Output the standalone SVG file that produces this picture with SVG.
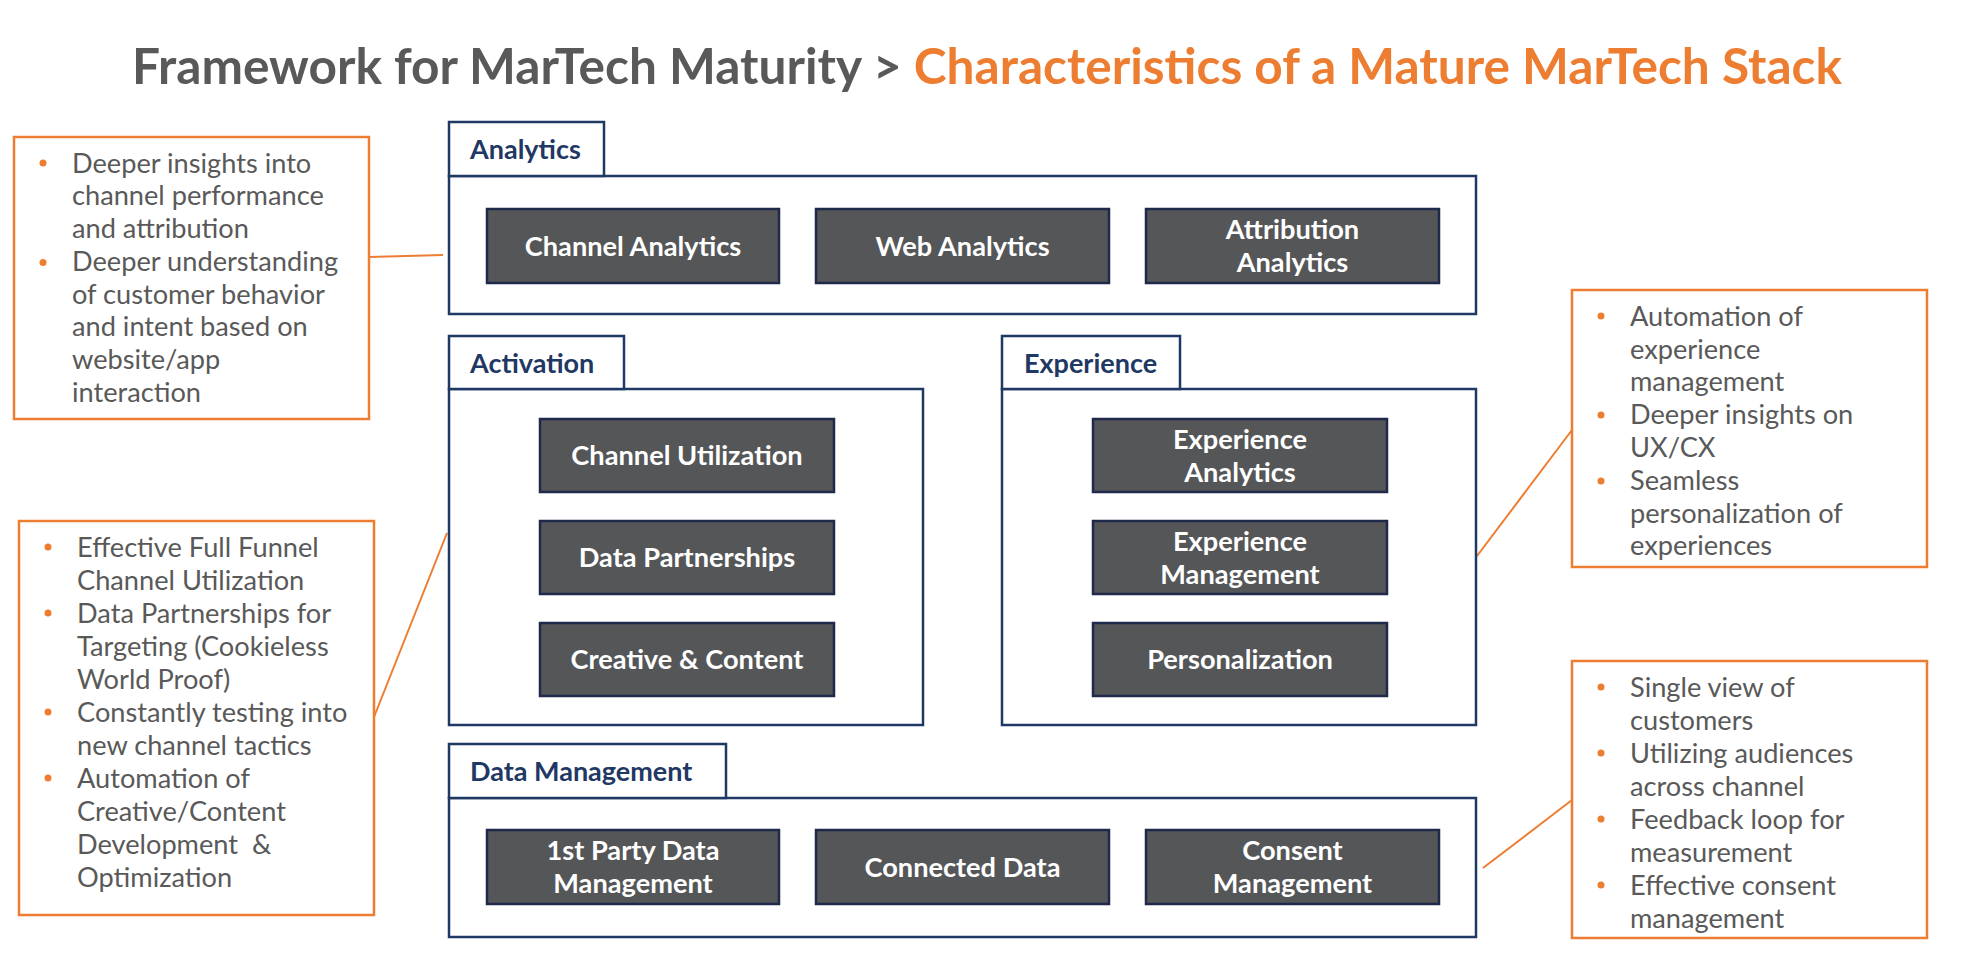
<svg xmlns="http://www.w3.org/2000/svg" width="1968" height="960" viewBox="0 0 1968 960">
<style>
.title{font-family:Lato,"Liberation Sans",sans-serif;font-weight:700;font-size:49.6px}
.tab{fill:#fff;stroke:#1f3864;stroke-width:2.5}
.panel{fill:#fff;stroke:#1f3864;stroke-width:2.5}
.tablbl{font-family:Lato,"Liberation Sans",sans-serif;font-weight:700;font-size:27px;fill:#1f3864}
.box{fill:#555658;stroke:#1f2a4a;stroke-width:2.5}
.boxtxt{font-family:Lato,"Liberation Sans",sans-serif;font-weight:700;font-size:27.2px;fill:#fff;text-anchor:middle}
.call{fill:#fff;stroke:#ed7d31;stroke-width:2.5}
.ctxt{font-family:Lato,"Liberation Sans",sans-serif;font-size:27.2px;fill:#595959}
.dot{fill:#ed7d31}
.conn{stroke:#ed7d31;stroke-width:2;fill:none}
</style>
<rect width="1968" height="960" fill="#fff"/>
<text class="title" x="132" y="84"><tspan fill="#595959">Framework for MarTech Maturity &gt; </tspan><tspan fill="#ed7d31">Characteristics of a Mature MarTech Stack</tspan></text>

<g id="connectors">
<line class="conn" x1="369" y1="257" x2="443" y2="255"/>
<line class="conn" x1="374" y1="717" x2="447" y2="533"/>
<line class="conn" x1="1572" y1="430" x2="1477" y2="556"/>
<line class="conn" x1="1572" y1="800" x2="1483" y2="868"/>
</g>

<g id="analytics">
<rect class="panel" x="449" y="176" width="1027" height="138"/>
<rect class="tab" x="449" y="122" width="155" height="54"/>
<text class="tablbl" x="470" y="159">Analytics</text>
</g>
<g id="channel-analytics"><rect class="box" x="487" y="209" width="292" height="74"/><text class="boxtxt" x="633" y="256">Channel Analytics</text></g>
<g id="web-analytics"><rect class="box" x="816" y="209" width="293" height="74"/><text class="boxtxt" x="962.5" y="256">Web Analytics</text></g>
<g id="attribution-analytics"><rect class="box" x="1146" y="209" width="293" height="74"/><text class="boxtxt" x="1292.5" y="238.5">Attribution</text><text class="boxtxt" x="1292.5" y="271.5">Analytics</text></g>

<g id="activation">
<rect class="panel" x="449" y="389" width="474" height="336"/>
<rect class="tab" x="449" y="336" width="175" height="53"/>
<text class="tablbl" x="470" y="373">Activation</text>
</g>
<g id="channel-utilization"><rect class="box" x="540" y="419" width="294" height="73"/><text class="boxtxt" x="687" y="465">Channel Utilization</text></g>
<g id="data-partnerships"><rect class="box" x="540" y="521" width="294" height="73"/><text class="boxtxt" x="687" y="567">Data Partnerships</text></g>
<g id="creative-content"><rect class="box" x="540" y="623" width="294" height="73"/><text class="boxtxt" x="687" y="669">Creative &amp; Content</text></g>

<g id="experience">
<rect class="panel" x="1002" y="389" width="474" height="336"/>
<rect class="tab" x="1002" y="336" width="178" height="53"/>
<text class="tablbl" x="1024" y="373">Experience</text>
</g>
<g id="experience-analytics"><rect class="box" x="1093" y="419" width="294" height="73"/><text class="boxtxt" x="1240" y="448.5">Experience</text><text class="boxtxt" x="1240" y="481.5">Analytics</text></g>
<g id="experience-management"><rect class="box" x="1093" y="521" width="294" height="73"/><text class="boxtxt" x="1240" y="550.5">Experience</text><text class="boxtxt" x="1240" y="583.5">Management</text></g>
<g id="personalization"><rect class="box" x="1093" y="623" width="294" height="73"/><text class="boxtxt" x="1240" y="669">Personalization</text></g>

<g id="data-management">
<rect class="panel" x="449" y="798" width="1027" height="139"/>
<rect class="tab" x="449" y="744" width="277" height="54"/>
<text class="tablbl" x="470" y="781">Data Management</text>
</g>
<g id="first-party-data"><rect class="box" x="487" y="830" width="292" height="74"/><text class="boxtxt" x="633" y="859.5">1st Party Data</text><text class="boxtxt" x="633" y="892.5">Management</text></g>
<g id="connected-data"><rect class="box" x="816" y="830" width="293" height="74"/><text class="boxtxt" x="962.5" y="877">Connected Data</text></g>
<g id="consent-management"><rect class="box" x="1146" y="830" width="293" height="74"/><text class="boxtxt" x="1292.5" y="859.5">Consent</text><text class="boxtxt" x="1292.5" y="892.5">Management</text></g>

<g id="callout-analytics">
<rect class="call" x="14" y="137" width="355" height="282"/>
<circle class="dot" cx="43" cy="163" r="3.5"/><circle class="dot" cx="43" cy="262.5" r="3.5"/>
<text class="ctxt" x="72" y="172.7">Deeper insights into</text>
<text class="ctxt" x="72" y="205.4">channel performance</text>
<text class="ctxt" x="72" y="238.1">and attribution</text>
<text class="ctxt" x="72" y="270.8">Deeper understanding</text>
<text class="ctxt" x="72" y="303.5">of customer behavior</text>
<text class="ctxt" x="72" y="336.2">and intent based on</text>
<text class="ctxt" x="72" y="368.9">website/app</text>
<text class="ctxt" x="72" y="401.6">interaction</text>
</g>

<g id="callout-activation">
<rect class="call" x="19" y="521" width="355" height="394"/>
<circle class="dot" cx="48" cy="547" r="3.5"/><circle class="dot" cx="48" cy="613" r="3.5"/><circle class="dot" cx="48" cy="712" r="3.5"/><circle class="dot" cx="48" cy="778" r="3.5"/>
<text class="ctxt" x="77" y="556.7">Effective Full Funnel</text>
<text class="ctxt" x="77" y="589.7">Channel Utilization</text>
<text class="ctxt" x="77" y="622.7">Data Partnerships for</text>
<text class="ctxt" x="77" y="655.7">Targeting (Cookieless</text>
<text class="ctxt" x="77" y="688.7">World Proof)</text>
<text class="ctxt" x="77" y="721.7">Constantly testing into</text>
<text class="ctxt" x="77" y="754.7">new channel tactics</text>
<text class="ctxt" x="77" y="787.7">Automation of</text>
<text class="ctxt" x="77" y="820.7">Creative/Content</text>
<text class="ctxt" x="77" y="853.7" xml:space="preserve">Development  &amp;</text>
<text class="ctxt" x="77" y="886.7">Optimization</text>
</g>

<g id="callout-experience">
<rect class="call" x="1572" y="290" width="355" height="277"/>
<circle class="dot" cx="1601" cy="316" r="3.5"/><circle class="dot" cx="1601" cy="415" r="3.5"/><circle class="dot" cx="1601" cy="481" r="3.5"/>
<text class="ctxt" x="1630" y="325.7">Automation of</text>
<text class="ctxt" x="1630" y="358.5">experience</text>
<text class="ctxt" x="1630" y="391.3">management</text>
<text class="ctxt" x="1630" y="424.1">Deeper insights on</text>
<text class="ctxt" x="1630" y="456.9">UX/CX</text>
<text class="ctxt" x="1630" y="489.7">Seamless</text>
<text class="ctxt" x="1630" y="522.5">personalization of</text>
<text class="ctxt" x="1630" y="555.3">experiences</text>
</g>

<g id="callout-data">
<rect class="call" x="1572" y="661" width="355" height="277"/>
<circle class="dot" cx="1601" cy="687" r="3.5"/><circle class="dot" cx="1601" cy="753" r="3.5"/><circle class="dot" cx="1601" cy="819" r="3.5"/><circle class="dot" cx="1601" cy="885" r="3.5"/>
<text class="ctxt" x="1630" y="696.7">Single view of</text>
<text class="ctxt" x="1630" y="729.7">customers</text>
<text class="ctxt" x="1630" y="762.7">Utilizing audiences</text>
<text class="ctxt" x="1630" y="795.7">across channel</text>
<text class="ctxt" x="1630" y="828.7">Feedback loop for</text>
<text class="ctxt" x="1630" y="861.7">measurement</text>
<text class="ctxt" x="1630" y="894.7">Effective consent</text>
<text class="ctxt" x="1630" y="927.7">management</text>
</g>
</svg>
